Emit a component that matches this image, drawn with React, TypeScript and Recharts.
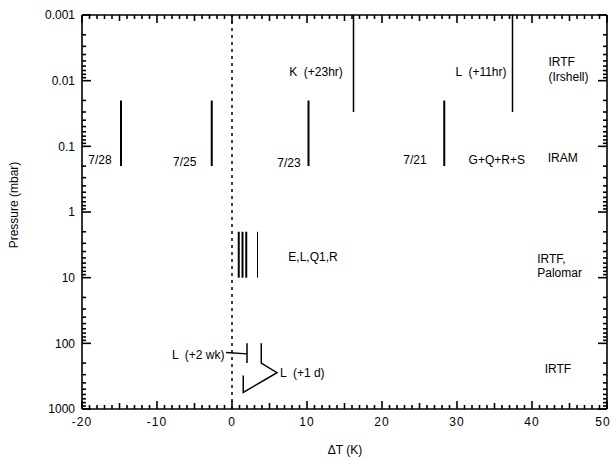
import { ComposedChart, Line, Scatter, XAxis, YAxis, ReferenceLine } from "recharts";

// ΔT (K) vs pressure (mbar); each observation is a vertical bar over its pressure range
const X_TICKS = [-20, -10, 0, 10, 20, 30, 40, 50];
const P_DECADES = [0.001, 0.01, 0.1, 1, 10, 100, 1000];
const P_DECADE_LABELS = ["0.001", "0.01", "0.1", "1", "10", "100", "1000"];
const MINOR_MULT = [2, 3, 4, 5, 6, 7, 8, 9];

const obsBars = [
  { x: -14.8, top: 0.02, bottom: 0.2, w: 2 },
  { x: -2.7, top: 0.02, bottom: 0.2, w: 2 },
  { x: 10.2, top: 0.02, bottom: 0.2, w: 2 },
  { x: 28.3, top: 0.02, bottom: 0.2, w: 2 },
  { x: 16.2, top: 0.001, bottom: 0.03, w: 1.5 },
  { x: 37.4, top: 0.001, bottom: 0.03, w: 1.5 },
  { x: 0.9, top: 2, bottom: 10, w: 2 },
  { x: 1.4, top: 2, bottom: 10, w: 2 },
  { x: 1.9, top: 2, bottom: 10, w: 2 },
  { x: 3.4, top: 2, bottom: 10, w: 1 },
  { x: 2.0, top: 100, bottom: 200, w: 1.5 },
];

// leader lines, in (ΔT, p) points
const leader2wk = [
  { x: -0.8, p: 138 },
  { x: 2.0, p: 145 },
];
const leader1d = [
  { x: 3.9, p: 100 },
  { x: 3.9, p: 200 },
  { x: 6.0, p: 280 },
  { x: 1.5, p: 560 },
  { x: 1.5, p: 310 },
];

const labels = [
  { x: -17.6, p: 0.16, text: "7/28", anchor: "middle" },
  { x: -6.3, p: 0.17, text: "7/25", anchor: "middle" },
  { x: 7.6, p: 0.18, text: "7/23", anchor: "middle" },
  { x: 24.4, p: 0.16, text: "7/21", anchor: "middle" },
  { x: 35.3, p: 0.16, text: "G+Q+R+S", anchor: "middle" },
  { x: 44.1, p: 0.15, text: "IRAM", anchor: "middle" },
  { x: 11.2, p: 0.0074, text: "K  (+23hr)", anchor: "middle" },
  { x: 33.2, p: 0.0074, text: "L  (+11hr)", anchor: "middle" },
  { x: 42.2, p: 0.0052, text: "IRTF", anchor: "start" },
  { x: 42.2, p: 0.0088, text: "(Irshell)", anchor: "start" },
  { x: 10.8, p: 4.8, text: "E,L,Q1,R", anchor: "middle" },
  { x: 40.7, p: 5.2, text: "IRTF,", anchor: "start" },
  { x: 40.7, p: 8.5, text: "Palomar", anchor: "start" },
  { x: -1.0, p: 150, text: "L  (+2 wk)", anchor: "end" },
  { x: 6.4, p: 278, text: "L  (+1 d)", anchor: "start" },
  { x: 41.7, p: 244, text: "IRTF", anchor: "start" },
];

const FONT = "'Liberation Sans', Arial, Helvetica, sans-serif";
const PLOT_TOP = 15; // = height of the top (frame) axis
const TICK_W = 1.6;

const xAllTicks = Array.from({ length: 71 }, (_, i) => i - 20);
const pAllTicks = P_DECADES.slice(0, -1)
  .flatMap((d) => [d, ...MINOR_MULT.map((m) => Number((m * d).toPrecision(3)))])
  .concat([1000]);

function xTickLen(v: number) {
  if (v % 10 === 0) return 8;
  if (v % 5 === 0) return 6;
  return 4;
}

function decadeIndex(v: number) {
  return P_DECADES.findIndex((d) => Math.abs(d - v) / d < 1e-6);
}

// bottom axis tick: inward tick on bottom and mirrored one on the top frame
// eslint-disable-next-line @typescript-eslint/no-explicit-any
function BottomTick({ x, y, payload }: any) {
  const v = payload.value;
  const len = xTickLen(v);
  return (
    <g>
      <line x1={x} x2={x} y1={y} y2={y - len} stroke="#000" strokeWidth={TICK_W} />
      <line x1={x} x2={x} y1={PLOT_TOP} y2={PLOT_TOP + len} stroke="#000" strokeWidth={TICK_W} />
      {X_TICKS.includes(v) && (
        <text x={v === 50 ? x - 4 : x} y={y + 13} dy="0.35em" textAnchor="middle" fontSize={12} fontFamily={FONT} fill="#000" letterSpacing={1}>
          {v}
        </text>
      )}
    </g>
  );
}

// eslint-disable-next-line @typescript-eslint/no-explicit-any
function LeftTick({ x, y, payload }: any) {
  const idx = decadeIndex(payload.value);
  return (
    <g>
      <line x1={x} x2={x + (idx >= 0 ? 9 : 4)} y1={y} y2={y} stroke="#000" strokeWidth={TICK_W} />
      {idx >= 0 && (
        <text x={x - 7} y={y} dy="0.35em" textAnchor="end" fontSize={12} fontFamily={FONT} fill="#000">
          {P_DECADE_LABELS[idx]}
        </text>
      )}
    </g>
  );
}

// eslint-disable-next-line @typescript-eslint/no-explicit-any
function RightTick({ x, y, payload }: any) {
  const idx = decadeIndex(payload.value);
  return <line x1={x} x2={x - (idx >= 0 ? 9 : 4)} y1={y} y2={y} stroke="#000" strokeWidth={TICK_W} />;
}

// eslint-disable-next-line @typescript-eslint/no-explicit-any
function LabelShape({ cx, cy, payload }: any) {
  return (
    <text x={cx} y={cy} dy="0.35em" textAnchor={payload.anchor} fontSize={12} fontFamily={FONT} fill="#000" style={{ whiteSpace: "pre" }}>
      {payload.text}
    </text>
  );
}

export default function App() {
  const axisLine = { stroke: "#000", strokeWidth: 1.6 };
  return (
    <div style={{ position: "absolute", left: 0, top: 0, background: "#fff" }}>
      <ComposedChart width={612} height={460} margin={{ top: 0, right: 0, bottom: 0, left: 0 }}>
        <XAxis
          dataKey="x"
          type="number"
          domain={[-20, 50]}
          ticks={xAllTicks}
          interval={0}
          tickSize={0}
          tickMargin={0}
          tickLine={false}
          axisLine={axisLine}
          tick={<BottomTick />}
          height={51}
          label={{
            content: () => (
              <text x={345} y={450} dy="0.35em" textAnchor="middle" fontSize={12} fontFamily={FONT} fill="#000">
                ΔT (K)
              </text>
            ),
          }}
        />
        <XAxis
          xAxisId="t"
          orientation="top"
          type="number"
          domain={[-20, 50]}
          tick={false}
          tickLine={false}
          axisLine={axisLine}
          height={PLOT_TOP}
        />
        <YAxis
          dataKey="p"
          scale="log"
          type="number"
          domain={[0.001, 1000]}
          reversed
          ticks={pAllTicks}
          interval={0}
          tickSize={0}
          tickMargin={0}
          tickLine={false}
          axisLine={axisLine}
          tick={<LeftTick />}
          width={82}
          allowDataOverflow
          label={{
            content: () => (
              <text x={14} y={205} dy="0.35em" textAnchor="middle" fontSize={12} fontFamily={FONT} fill="#000" transform="rotate(-90 14 205)">
                Pressure (mbar)
              </text>
            ),
          }}
        />
        <YAxis
          yAxisId="r"
          orientation="right"
          scale="log"
          type="number"
          domain={[0.001, 1000]}
          reversed
          ticks={pAllTicks}
          interval={0}
          tickSize={0}
          tickMargin={0}
          tickLine={false}
          axisLine={axisLine}
          tick={<RightTick />}
          width={5}
          allowDataOverflow
        />
        <ReferenceLine x={0} stroke="#000" strokeWidth={1.5} strokeDasharray="3 4" />
        {obsBars.map((b, i) => (
          <Line
            key={`bar-${i}`}
            data={[
              { x: b.x, p: b.top },
              { x: b.x, p: b.bottom },
            ]}
            dataKey="p"
            stroke="#000"
            strokeWidth={b.w}
            dot={false}
            activeDot={false}
            isAnimationActive={false}
          />
        ))}
        <Line data={leader2wk} dataKey="p" stroke="#000" strokeWidth={1.3} dot={false} activeDot={false} isAnimationActive={false} />
        <Line data={leader1d} dataKey="p" stroke="#000" strokeWidth={1.5} dot={false} activeDot={false} isAnimationActive={false} />
        <Scatter data={labels} dataKey="p" shape={<LabelShape />} isAnimationActive={false} />
      </ComposedChart>
    </div>
  );
}
